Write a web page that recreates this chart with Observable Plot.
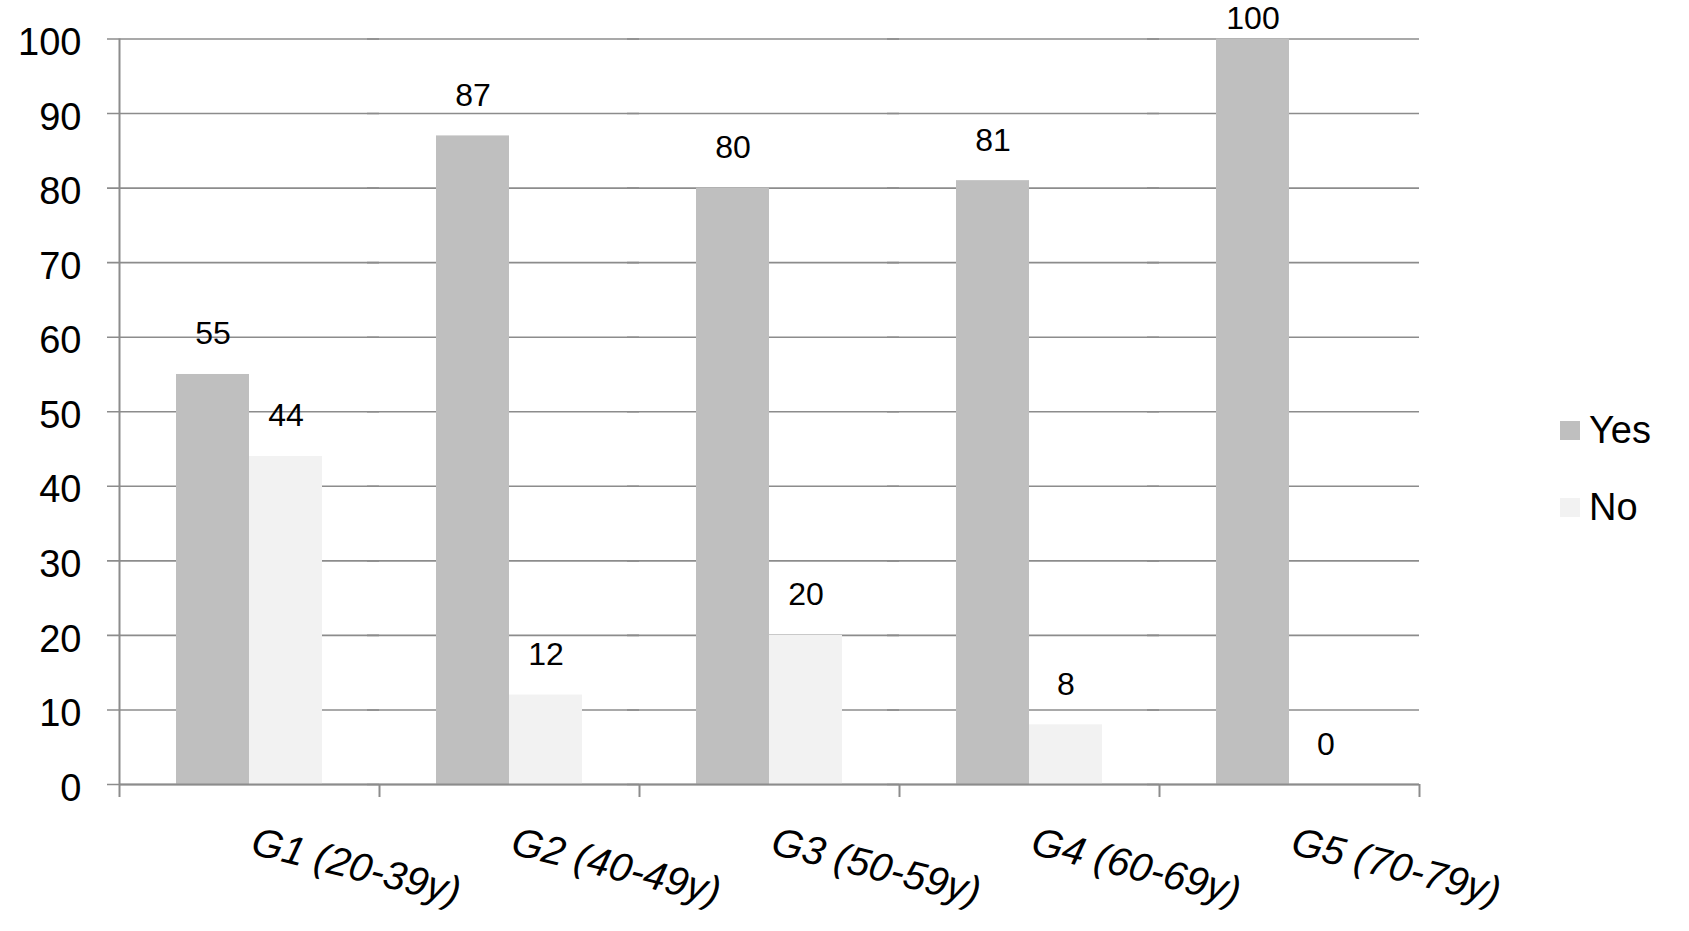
<!DOCTYPE html>
<html>
<head>
<meta charset="utf-8">
<script src="https://cdn.jsdelivr.net/npm/d3@7"></script>
<script src="https://cdn.jsdelivr.net/npm/@observablehq/plot@0.6"></script>
<style>
  html, body { margin: 0; padding: 0; background: #fff; }
  #wrap { position: relative; width: 1689px; height: 931px; font-family: "Liberation Sans", Arial, Helvetica, sans-serif; }
  #legend { position: absolute; left: 1560px; top: 411px; font-size: 38px; color: #000; }
  .item { display: flex; align-items: center; height: 38px; margin-bottom: 39px; }
  .sw { width: 20px; height: 19px; margin-right: 9px; }
</style>
</head>
<body>
<div id="wrap"><div id="legend"></div></div>
<script>
const groups = ["G1 (20-39y)", "G2 (40-49y)", "G3 (50-59y)", "G4 (60-69y)", "G5 (70-79y)"];
const seriesNames = ["Yes", "No"];
const yesValues = [55, 87, 80, 81, 100];
const noValues = [44, 12, 20, 8, 0];
const yTicks = [0, 10, 20, 30, 40, 50, 60, 70, 80, 90, 100];
const seriesColors = ["#bfbfbf", "#f2f2f2"];

const table = groups.flatMap((g, i) => [
  {group: g, series: "Yes", value: yesValues[i]},
  {group: g, series: "No", value: noValues[i]}
]);

const W = 1689, H = 931;
const mL = 119, mR = 270, mT = 38.5, mB = 147;
const facetW = (W - mL - mR) / groups.length;
const lineColor = "#8c8c8c";
const font = "'Liberation Sans', Arial, Helvetica, sans-serif";

const chart = Plot.plot({
  width: W,
  height: H,
  marginLeft: mL,
  marginRight: mR,
  marginTop: mT,
  marginBottom: mB,
  style: {fontFamily: font, fontSize: "38px", color: "#000", background: "transparent"},
  fx: {domain: groups, padding: 0, axis: null},
  x: {domain: seriesNames, paddingInner: 0, paddingOuter: 0.76, axis: null},
  y: {domain: [0, 100]},
  color: {domain: seriesNames, range: seriesColors},
  marks: [
    Plot.ruleY(yTicks, {y: d => d, stroke: lineColor, strokeWidth: 1.6, insetLeft: -12}),
    Plot.axisY({ticks: yTicks, tickSize: 0, tickPadding: 38, fontSize: 38, label: null, dy: 4, fill: "#000"}),
    Plot.barY(table, {fx: "group", x: "series", y: "value", fill: "series"}),
    Plot.text(table.filter(d => d.value < 100), {fx: "group", x: "series", y: "value", text: d => String(d.value), dy: -30, lineAnchor: "bottom", fontSize: 32, fill: "#000"}),
    Plot.text(table.filter(d => d.value >= 100), {fx: "group", x: "series", y: "value", text: d => String(d.value), dy: -10, lineAnchor: "bottom", fontSize: 32, fill: "#000"}),
    Plot.ruleY([0], {y: d => d, stroke: lineColor, strokeWidth: 2}),
    Plot.ruleX([groups[0]], {fx: d => d, x: null, dx: -facetW / 2, y1: () => 100, y2: () => 0, stroke: lineColor, strokeWidth: 2}),
    Plot.ruleX(groups, {fx: d => d, x: null, dx: -facetW / 2, y1: () => 0, y2: () => 0, insetBottom: -13, stroke: lineColor, strokeWidth: 2}),
    Plot.ruleX([groups[groups.length - 1]], {fx: d => d, x: null, dx: facetW / 2, y1: () => 0, y2: () => 0, insetBottom: -13, stroke: lineColor, strokeWidth: 2}),
    Plot.text(groups, {fx: d => d, text: d => d, frameAnchor: "bottom", dy: 69, rotate: 14, textAnchor: "start", lineAnchor: "bottom", fontStyle: "italic", fontSize: 40, fill: "#000"})
  ]
});
document.getElementById("wrap").prepend(chart);

const legend = document.getElementById("legend");
seriesNames.forEach((s, i) => {
  const item = document.createElement("div");
  item.className = "item";
  const sw = document.createElement("div");
  sw.className = "sw";
  sw.style.background = seriesColors[i];
  const label = document.createElement("span");
  label.textContent = s;
  item.append(sw, label);
  legend.append(item);
});
</script>
</body>
</html>
